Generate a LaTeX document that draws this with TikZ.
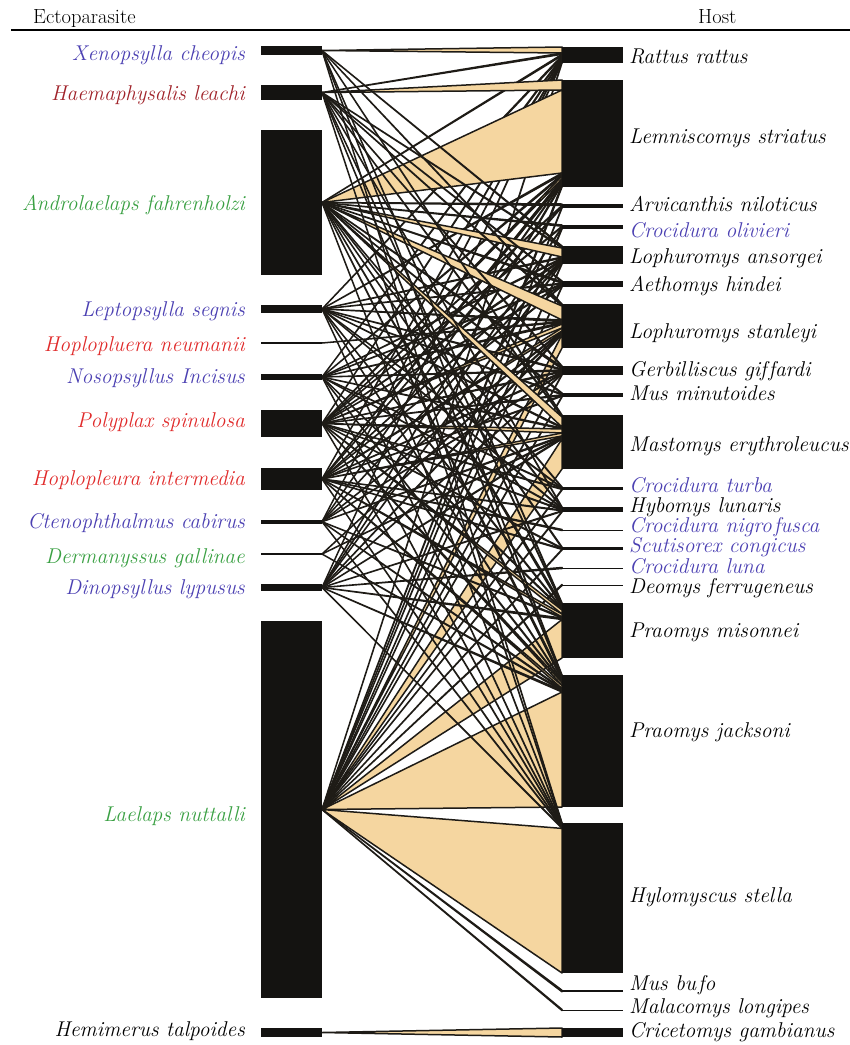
\documentclass[tikz,border=0pt]{standalone}
\usetikzlibrary{calc,backgrounds}
\definecolor{pblue}{HTML}{4B40B2}
\definecolor{dred}{HTML}{A0232A}
\definecolor{bred}{HTML}{E02A2A}
\definecolor{pgreen}{HTML}{3AA043}
\definecolor{tanfill}{HTML}{F5D6A0}
\definecolor{barc}{HTML}{141311}
\definecolor{linkc}{HTML}{1E1B16}
\newcommand\lk[4]{\filldraw[lnk] (#1.east) -- ($(#2.north west)+(0,#3)$) -- ($(#2.north west)+(0,#4)$) -- cycle;}
\begin{document}
\begin{tikzpicture}[x=1pt,y=-1pt,
  bar/.style={fill=barc, draw=none, inner sep=0pt, outer sep=0pt, minimum width=61pt},
  plab/.style={anchor=base east, inner sep=0pt, font=\fontsize{21.4}{25}\selectfont\itshape},
  hlab/.style={anchor=base west, inner sep=0pt, font=\fontsize{21.4}{25}\selectfont\itshape},
  head/.style={anchor=base west, inner sep=0pt, font=\fontsize{20.5}{24}\selectfont},
  lnk/.style={fill=tanfill, draw=linkc, line width=1.5pt, line join=round}]
\useasboundingbox (0,0) rectangle (850,1045);
% header
\node[head] (tEcto) at (33,23) {Ectoparasite};
\node[head] (tHost) at (698,23) {Host};
\coordinate (hlL) at (11,30);
\coordinate (hlR) at (850,30);
\draw[line width=1.3pt, black] (hlL) -- (hlR);
% parasite bars
\node[bar, minimum height=9pt]   (pa) at (291.5,50.5) {};
\node[bar, minimum height=15pt]  (pb) at (291.5,92.5) {};
\node[bar, minimum height=145pt] (pc) at (291.5,202.5) {};
\node[bar, minimum height=8pt]   (pd) at (291.5,309) {};
\node[bar, minimum height=1.2pt] (pe) at (291.5,343) {};
\node[bar, minimum height=6pt]   (pf) at (291.5,377) {};
\node[bar, minimum height=27pt]  (pg) at (291.5,423.5) {};
\node[bar, minimum height=22pt]  (ph) at (291.5,479) {};
\node[bar, minimum height=3.5pt] (pi) at (291.5,521.75) {};
\node[bar, minimum height=1.5pt] (pj) at (291.5,554) {};
\node[bar, minimum height=7pt]   (pk) at (291.5,587.5) {};
\node[bar, minimum height=377pt] (pl) at (291.5,809.5) {};
\node[bar, minimum height=9pt]   (pm) at (291.5,1032.5) {};
% parasite labels
\node[plab, text=pblue]  (ta) at (245,60)  {Xenopsylla cheopis};
\node[plab, text=dred]   (tb) at (245,100) {Haemaphysalis leachi};
\node[plab, text=pgreen] (tc) at (245,210) {Androlaelaps fahrenholzi};
\node[plab, text=pblue]  (td) at (245,316) {Leptopsylla segnis};
\node[plab, text=bred]   (te) at (245,351) {Hoplopluera neumanii};
\node[plab, text=pblue]  (tf) at (245,383) {Nosopsyllus Incisus};
\node[plab, text=bred]   (tg) at (245,427) {Polyplax spinulosa};
\node[plab, text=bred]   (th) at (245,485) {Hoplopleura intermedia};
\node[plab, text=pblue]  (ti) at (245,528) {Ctenophthalmus cabirus};
\node[plab, text=pgreen] (tj) at (245,563) {Dermanyssus gallinae};
\node[plab, text=pblue]  (tk) at (245,594) {Dinopsyllus lypusus};
\node[plab, text=pgreen] (tl) at (245,821) {Laelaps nuttalli};
\node[plab, text=black]  (tm) at (245,1036) {Hemimerus talpoides};
% host bars
\node[bar, minimum height=16pt]  (h1)  at (592.5,55) {};
\node[bar, minimum height=107pt] (h2)  at (592.5,133.5) {};
\node[bar, minimum height=4pt]   (h3)  at (592.5,206) {};
\node[bar, minimum height=4pt]   (h4)  at (592.5,227) {};
\node[bar, minimum height=18pt]  (h5)  at (592.5,255) {};
\node[bar, minimum height=6pt]   (h6)  at (592.5,284) {};
\node[bar, minimum height=44pt]  (h7)  at (592.5,326) {};
\node[bar, minimum height=9pt]   (h8)  at (592.5,370.5) {};
\node[bar, minimum height=4pt]   (h9)  at (592.5,395) {};
\node[bar, minimum height=54pt]  (h10) at (592.5,442) {};
\node[bar, minimum height=3pt]   (h11) at (592.5,488.5) {};
\node[bar, minimum height=5pt]   (h12) at (592.5,509.5) {};
\node[bar, minimum height=1pt]   (h13) at (592.5,530) {};
\node[bar, minimum height=3pt]   (h14) at (592.5,548.5) {};
\node[bar, minimum height=1pt]   (h15) at (592.5,568) {};
\node[bar, minimum height=1pt]   (h16) at (592.5,585) {};
\node[bar, minimum height=55pt]  (h17) at (592.5,630.5) {};
\node[bar, minimum height=132pt] (h18) at (592.5,741) {};
\node[bar, minimum height=150pt] (h19) at (592.5,898) {};
\node[bar, minimum height=1.5pt] (h20) at (592.5,991) {};
\node[bar, minimum height=1pt]   (h21) at (592.5,1010) {};
\node[bar, minimum height=9pt]   (h22) at (592.5,1032.5) {};
% host labels
\node[hlab] (u1)  at (629,63)  {Rattus rattus};
\node[hlab] (u2)  at (629,143) {Lemniscomys striatus};
\node[hlab] (u3)  at (629,211) {Arvicanthis niloticus};
\node[hlab, text=pblue] (u4) at (629,237) {Crocidura olivieri};
\node[hlab] (u5)  at (629,263) {Lophuromys ansorgei};
\node[hlab] (u6)  at (629,291) {Aethomys hindei};
\node[hlab] (u7)  at (629,338) {Lophuromys stanleyi};
\node[hlab] (u8)  at (629,376) {Gerbilliscus gif\kern2pt fardi};
\node[hlab] (u9)  at (629,400) {Mus minutoides};
\node[hlab] (u10) at (629,451) {Mastomys erythroleucus};
\node[hlab, text=pblue] (u11) at (629,492) {Crocidura turba};
\node[hlab] (u12) at (629,512) {Hybomys lunaris};
\node[hlab, text=pblue] (u13) at (629,532.5) {Crocidura nigro\kern2pt fusca};
\node[hlab, text=pblue] (u14) at (629,552.5) {Scutisorex congicus};
\node[hlab, text=pblue] (u15) at (629,573.5) {Crocidura luna};
\node[hlab] (u16) at (629,593) {Deomys ferrugeneus};
\node[hlab] (u17) at (629,637) {Praomys misonnei};
\node[hlab] (u18) at (629,737) {Praomys jacksoni};
\node[hlab] (u19) at (629,902) {Hylomyscus stella};
\node[hlab] (u20) at (629,990) {Mus bu\kern2pt fo};
\node[hlab] (u21) at (629,1013) {Malacomys longipes};
\node[hlab] (u22) at (629,1037) {Cricetomys gambianus};
% links
\begin{pgfonlayer}{background}
% Rattus
\lk{pa}{h1}{0}{6}\lk{pb}{h1}{6}{7.3}\lk{pc}{h1}{7.3}{8.6}\lk{pd}{h1}{8.6}{9.9}\lk{pf}{h1}{9.9}{11.2}\lk{pg}{h1}{11.2}{12.5}\lk{ph}{h1}{12.5}{13.5}\lk{pi}{h1}{13.5}{14.3}\lk{pk}{h1}{14.3}{15.1}\lk{pl}{h1}{15.1}{16}
% Lemniscomys
\lk{pb}{h2}{0}{10}\lk{pc}{h2}{10}{93}\lk{pd}{h2}{93}{94.5}\lk{pf}{h2}{94.5}{96}\lk{pg}{h2}{96}{99}\lk{ph}{h2}{99}{102}\lk{pi}{h2}{102}{103}\lk{pk}{h2}{103}{104.5}\lk{pl}{h2}{104.5}{107}
% Arvicanthis
\lk{pc}{h3}{0}{1.5}\lk{pg}{h3}{1.5}{2.3}\lk{ph}{h3}{2.3}{3.1}\lk{pl}{h3}{3.1}{4}
% C. olivieri
\lk{pc}{h4}{0}{1.2}\lk{pg}{h4}{1.2}{2}\lk{pk}{h4}{2}{2.8}\lk{pl}{h4}{2.8}{4}
% L. ansorgei
\lk{pa}{h5}{0}{1}\lk{pb}{h5}{1}{2}\lk{pc}{h5}{2}{11}\lk{pd}{h5}{11}{12}\lk{pf}{h5}{12}{13}\lk{pg}{h5}{13}{14.5}\lk{ph}{h5}{14.5}{15.5}\lk{pi}{h5}{15.5}{16.2}\lk{pk}{h5}{16.2}{17}\lk{pl}{h5}{17}{18}
% Aethomys
\lk{pb}{h6}{0}{0.8}\lk{pc}{h6}{0.8}{2.2}\lk{pd}{h6}{2.2}{3}\lk{pf}{h6}{3}{3.8}\lk{pg}{h6}{3.8}{4.6}\lk{ph}{h6}{4.6}{5.3}\lk{pl}{h6}{5.3}{6}
% L. stanleyi
\lk{pa}{h7}{0}{1}\lk{pb}{h7}{1}{2}\lk{pc}{h7}{2}{16}\lk{pd}{h7}{16}{17.5}\lk{pe}{h7}{17.5}{18.5}\lk{pf}{h7}{18.5}{20}\lk{pg}{h7}{20}{24}\lk{ph}{h7}{24}{27}\lk{pi}{h7}{27}{28}\lk{pj}{h7}{28}{29}\lk{pk}{h7}{29}{30.5}\lk{pl}{h7}{30.5}{44}
% Gerbilliscus
\lk{pb}{h8}{0}{1}\lk{pc}{h8}{1}{3}\lk{pd}{h8}{3}{4}\lk{pf}{h8}{4}{5}\lk{pg}{h8}{5}{6}\lk{ph}{h8}{6}{7}\lk{pi}{h8}{7}{7.7}\lk{pk}{h8}{7.7}{8.4}\lk{pl}{h8}{8.4}{9}
% Mus minutoides
\lk{pc}{h9}{0}{1}\lk{pd}{h9}{1}{1.8}\lk{pg}{h9}{1.8}{2.6}\lk{ph}{h9}{2.6}{3.3}\lk{pl}{h9}{3.3}{4}
% Mastomys
\lk{pa}{h10}{0}{1}\lk{pb}{h10}{1}{2}\lk{pc}{h10}{2}{12}\lk{pd}{h10}{12}{13}\lk{pf}{h10}{13}{14}\lk{pg}{h10}{14}{18}\lk{ph}{h10}{18}{21}\lk{pi}{h10}{21}{22}\lk{pj}{h10}{22}{23}\lk{pk}{h10}{23}{24}\lk{pl}{h10}{24}{54}
% C. turba
\lk{pc}{h11}{0}{0.6}\lk{pd}{h11}{0.6}{1.2}\lk{pf}{h11}{1.2}{1.8}\lk{pg}{h11}{1.8}{2.4}\lk{pl}{h11}{2.4}{3}
% Hybomys
\lk{pb}{h12}{0}{0.6}\lk{pc}{h12}{0.6}{1.4}\lk{pd}{h12}{1.4}{2}\lk{pf}{h12}{2}{2.6}\lk{pg}{h12}{2.6}{3.2}\lk{ph}{h12}{3.2}{3.8}\lk{pk}{h12}{3.8}{4.4}\lk{pl}{h12}{4.4}{5}
% C. nigrofusca
\lk{ph}{h13}{0}{1}
% Scutisorex
\lk{pc}{h14}{0}{1}\lk{pg}{h14}{1}{1.7}\lk{ph}{h14}{1.7}{2.4}\lk{pl}{h14}{2.4}{3}
% C. luna
\lk{pk}{h15}{0}{1}
% Deomys
\lk{pl}{h16}{0}{1}
% P. misonnei
\lk{pa}{h17}{0}{1}\lk{pb}{h17}{1}{2}\lk{pc}{h17}{2}{5}\lk{pd}{h17}{5}{6}\lk{pf}{h17}{6}{7}\lk{pg}{h17}{7}{11}\lk{ph}{h17}{11}{14}\lk{pi}{h17}{14}{15}\lk{pk}{h17}{15}{16.5}\lk{pl}{h17}{16.5}{55}
% P. jacksoni
\lk{pa}{h18}{0}{1}\lk{pb}{h18}{1}{2.5}\lk{pc}{h18}{2.5}{5.5}\lk{pd}{h18}{5.5}{6.5}\lk{pf}{h18}{6.5}{7.5}\lk{pg}{h18}{7.5}{10.5}\lk{ph}{h18}{10.5}{13.5}\lk{pi}{h18}{13.5}{14.5}\lk{pj}{h18}{14.5}{15.5}\lk{pk}{h18}{15.5}{17}\lk{pl}{h18}{17}{132}
% Hylomyscus
\lk{pa}{h19}{0}{0.6}\lk{pb}{h19}{0.6}{1.2}\lk{pc}{h19}{1.2}{1.8}\lk{pd}{h19}{1.8}{2.4}\lk{pf}{h19}{2.4}{3}\lk{pg}{h19}{3}{3.6}\lk{ph}{h19}{3.6}{4.2}\lk{pi}{h19}{4.2}{4.8}\lk{pk}{h19}{4.8}{5.4}\lk{pl}{h19}{5.4}{150}
% Mus bufo, Malacomys, Cricetomys
\lk{pl}{h20}{0}{1.5}
\lk{pl}{h21}{0}{1}
\lk{pm}{h22}{0}{9}
\end{pgfonlayer}
\end{tikzpicture}
\end{document}
